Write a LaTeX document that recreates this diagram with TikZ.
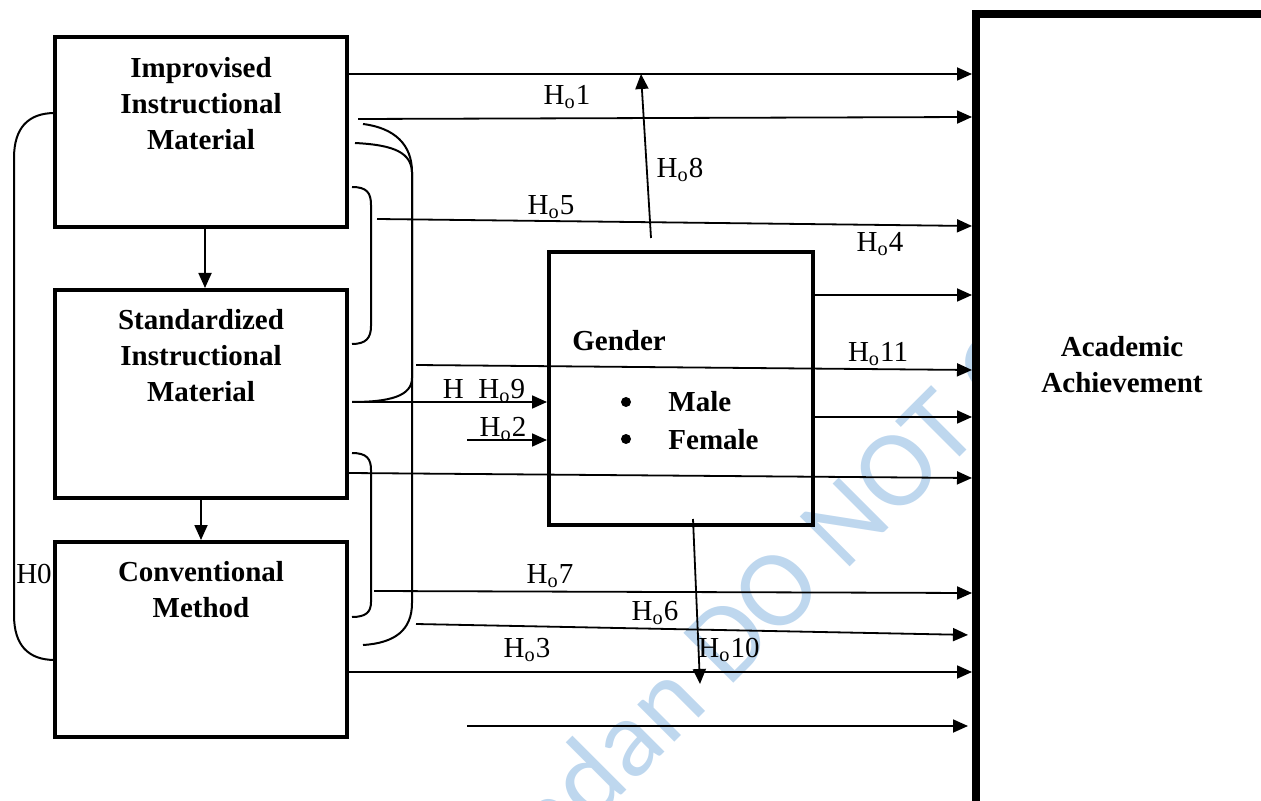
\documentclass[tikz,border=0pt]{standalone}
\usepackage{fontspec}
\setmainfont{Liberation Serif}
\newfontfamily\markfont{Carlito}
\usetikzlibrary{arrows.meta,positioning}
\definecolor{markblue}{RGB}{190,215,238}

\begin{document}
\begin{tikzpicture}[x=0.5pt,y=-0.5pt,>={Triangle[length=7.5pt,width=6.5pt]},
  every node/.style={font=\fontsize{14.5}{18}\selectfont},
  box/.style={draw,line width=2pt,inner sep=0pt},
  boxtext/.style={font=\bfseries\fontsize{14.5}{18}\selectfont,align=center},
  dot/.style={circle,fill,inner sep=0pt,minimum size=5pt},
  hyp/.style={inner sep=1pt},
  arr/.style={->,line width=0.9pt},
  brace/.style={line width=1pt}]
  \useasboundingbox (0,0) rectangle (1261,801);

  % Watermark
  \node[text=markblue,rotate=45,anchor=base,inner sep=0pt,
    font=\markfont\fontsize{55}{55}\selectfont] (mark) at (832,585) {Ibadan DO NOT COPY};

  % Boxes
  \node[box,minimum width=146pt,minimum height=95pt] (imp) at (201,132) {};
  \node[box,minimum width=146pt,minimum height=104pt] (std) at (201,394) {};
  \node[box,minimum width=146pt,minimum height=97.5pt] (con) at (201,639.5) {};
  \node[box,minimum width=132pt,minimum height=136.5pt] (gen) at (681,388.5) {};
  \node[draw,fill=white,line width=4pt,inner sep=0pt,minimum width=200pt,
    minimum height=450pt] (acad) at (1176,464) {};

  \node[boxtext] (imptxt) at (201,104) {Improvised\\Instructional\\Material};
  \node[boxtext] (stdtxt) at (201,356) {Standardized\\Instructional\\Material};
  \node[boxtext] (contxt) at (201,590) {Conventional\\Method};
  \node[boxtext,anchor=west,inner sep=0pt] (gentxt) at (572,341) {Gender};
  \node[dot] (dot1) at (626,402) {};
  \node[boxtext,anchor=west,inner sep=0pt] (male) at (668,402) {Male};
  \node[dot] (dot2) at (626,439) {};
  \node[boxtext,anchor=west,inner sep=0pt] (female) at (668,440) {Female};
  \node[boxtext] (acadtxt) at (1122,365) {Academic\\Achievement};

  % Brackets
  \draw[brace] (55,113) .. controls (28,113) and (14,128) .. (14,158) -- (14,615)
    .. controls (14,645) and (28,660) .. (55,660);
  \draw[brace] (355,143) .. controls (395,145) and (411,153) .. (412,172) -- (412,378)
    .. controls (412,396) and (390,402) .. (352,402);
  \draw[brace] (363,124) .. controls (395,128) and (412,145) .. (412,172) -- (412,603)
    .. controls (412,630) and (395,643) .. (363,645);
  \draw[brace] (352,187) .. controls (367,187) and (371,193) .. (371,205) -- (371,326)
    .. controls (371,338) and (366,344) .. (352,344);
  \draw[brace] (352,453) .. controls (367,453) and (371,459) .. (371,470) -- (371,602)
    .. controls (371,612) and (366,617) .. (352,617);

  % Arrows to the outcome
  \draw[arr] (imp.east |- 0,74) -- (acad.west |- 0,74);
  \draw[arr] (358,119) -- (acad.west |- 0,117);
  \draw[arr] (377,219) -- (acad.west |- 0,226);
  \draw[arr] (gen.east |- 0,295) -- (acad.west |- 0,295);
  \draw[arr] (416,365) -- (acad.west |- 0,370);
  \draw[arr] (gen.east |- 0,417) -- (acad.west |- 0,417);
  \draw[arr] (std.east |- 0,473) -- (acad.west |- 0,478);
  \draw[arr] (374,591) -- (acad.west |- 0,593);
  \draw[arr,shorten >=2pt] (416,624) -- (acad.west |- 0,635);
  \draw[arr] (con.east |- 0,672) -- (acad.west |- 0,672);
  \draw[arr,shorten >=2pt] (467,726) -- (acad.west |- 0,726);

  % Arrows around gender
  \draw[arr] (352,402) -- (gen.west |- 0,402);
  \draw[arr] (467,440) -- (gen.west |- 0,440);
  \draw[arr] ([xshift=-15pt,yshift=6pt]gen.north) -- (641,74);
  \draw[arr] ([xshift=6pt,yshift=4pt]gen.south) -- (700,684);

  % Arrows between methods
  \draw[arr] ([xshift=2pt]imp.south) -- ([xshift=2pt]std.north);
  \draw[arr] (std.south) -- (con.north);

  % Hypotheses
  \node[hyp] (h1) at (567,97) {H\textsubscript{o}1};
  \node[hyp] (h5) at (551,207) {H\textsubscript{o}5};
  \node[hyp] (h8) at (680,170) {H\textsubscript{o}8};
  \node[hyp] (h4) at (880,244) {H\textsubscript{o}4};
  \node[hyp] (h11) at (878,354) {H\textsubscript{o}11};
  \node[hyp] (h9) at (484,391) {H\enspace H\textsubscript{o}9};
  \node[hyp] (h2) at (503,429) {H\textsubscript{o}2};
  \node[hyp] (h7) at (550,576) {H\textsubscript{o}7};
  \node[hyp] (h6) at (655,613) {H\textsubscript{o}6};
  \node[hyp] (h3) at (527,650) {H\textsubscript{o}3};
  \node[hyp] (h10) at (729,650) {H\textsubscript{o}10};
  \node[hyp] (h0) at (34,574) {H0};
\end{tikzpicture}
\end{document}
